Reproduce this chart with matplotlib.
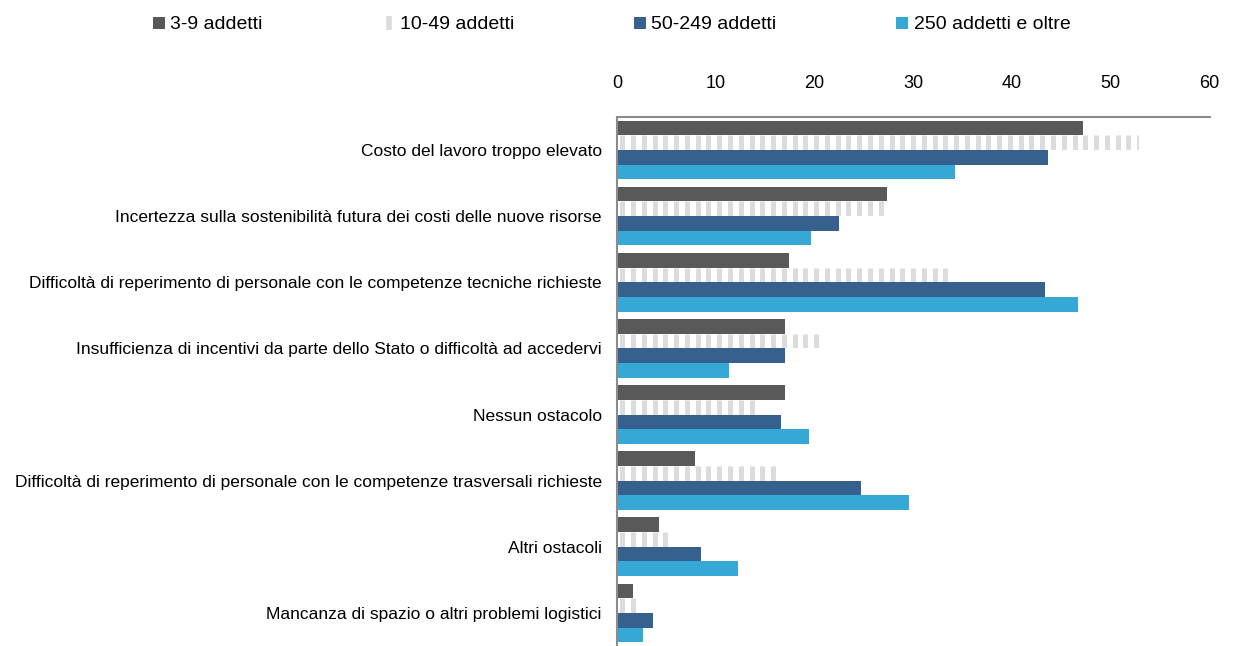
import matplotlib.pyplot as plt
import numpy as np
from matplotlib.lines import Line2D

plt.rcParams['font.family'] = ['Liberation Sans', 'DejaVu Sans']

categorie = [
    "Costo del lavoro troppo elevato",
    "Incertezza sulla sostenibilità futura dei costi delle nuove risorse",
    "Difficoltà di reperimento di personale con le competenze tecniche richieste",
    "Insufficienza di incentivi da parte dello Stato o difficoltà ad accedervi",
    "Nessun ostacolo",
    "Difficoltà di reperimento di personale con le competenze trasversali richieste",
    "Altri ostacoli",
    "Mancanza di spazio o altri problemi logistici",
]
classi = ["3-9 addetti", "10-49 addetti", "50-249 addetti", "250 addetti e oltre"]
addetti_3_9 = [47.2, 27.3, 17.4, 17.0, 17.0, 7.9, 4.3, 1.6]
addetti_10_49 = [52.9, 27.4, 34.0, 20.9, 14.5, 16.4, 5.7, 2.4]
addetti_50_249 = [43.6, 22.5, 43.3, 17.0, 16.6, 24.7, 8.5, 3.6]
addetti_250 = [34.2, 19.6, 46.7, 11.3, 19.4, 29.6, 12.3, 2.6]

serie = [addetti_3_9, addetti_10_49, addetti_50_249, addetti_250]
colori = ['#595959', 'white', '#36618f', '#35a8d6']
grigio_righe = '#dcdcdc'

fig = plt.figure(figsize=(12.33, 6.46), dpi=100)
ax = fig.add_axes([0.5004, 0.0, 0.4806, 0.819])

y = np.arange(len(categorie))
h = 0.222
for k, (vals, col) in enumerate(zip(serie, colori)):
    pos = y - 1.5 * h + k * h
    barre = ax.barh(pos, vals, height=h, color=col, linewidth=0, label=classi[k])
    if k == 1:
        # barre a righe verticali: strisce grigie ritagliate sul rettangolo
        passo = 1.09
        for b, v, p in zip(barre, vals, pos):
            xs = np.arange(passo / 2, v + passo, passo)
            righe = ax.vlines(xs, p - h / 2, p + h / 2, color=grigio_righe,
                              linewidth=3.6)
            righe.set_clip_path(b)

ax.set_xlim(0, 60)
ax.set_ylim(len(categorie) - 0.5, -0.5)
ax.set_xticks(range(0, 61, 10))
ax.xaxis.tick_top()
ax.tick_params(axis='x', length=0, pad=18, labelsize=13)
ax.set_yticks(y)
ax.set_yticklabels(categorie, fontsize=12.5)
ax.tick_params(axis='y', length=0, pad=11)

for s in ['right', 'bottom']:
    ax.spines[s].set_visible(False)
for s in ['top', 'left']:
    ax.spines[s].set_color('#8c8c8c')
    ax.spines[s].set_linewidth(1.5)

maniglie = [
    Line2D([], [], linestyle='none', marker='s', markersize=9,
           markerfacecolor='#595959', markeredgewidth=0),
    Line2D([], [], linestyle='none', marker='|', markersize=10,
           markeredgecolor=grigio_righe, markeredgewidth=4),
    Line2D([], [], linestyle='none', marker='s', markersize=9,
           markerfacecolor='#36618f', markeredgewidth=0),
    Line2D([], [], linestyle='none', marker='s', markersize=9,
           markerfacecolor='#35a8d6', markeredgewidth=0),
]
fig.legend(maniglie, classi, ncol=4, loc='center left', bbox_to_anchor=(0.1105, 0.962),
           frameon=False, fontsize=14, handlelength=0.55, handletextpad=0.3,
           columnspacing=6.2)

fig.savefig('out.png', dpi=100)
